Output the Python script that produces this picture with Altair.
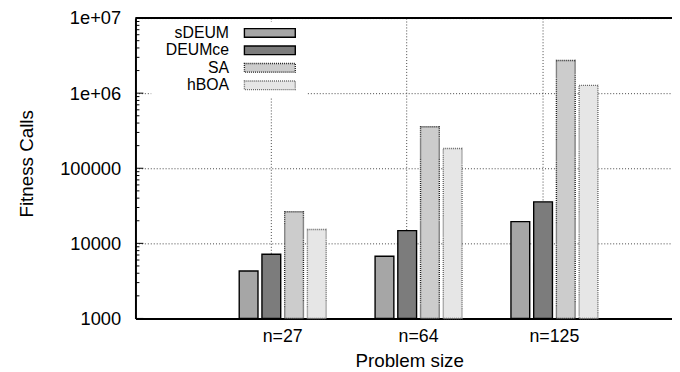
import altair as alt
import pandas as pd

# ---- data ----
sizes = ["n=27", "n=64", "n=125"]
series = ["sDEUM", "DEUMce", "SA", "hBOA"]
sdeum = [4280, 6740, 19500]
deumce = [7170, 14800, 35700]
sa = [26400, 357000, 2720000]
hboa = [15300, 183000, 1270000]

y_major = [1000, 10000, 100000, 1000000, 10000000]
y_minor = [m * 10 ** e for e in range(3, 7) for m in range(2, 10)]

# ---- styles ----
fills = ["#a6a6a6", "#7c7c7c", "#cccccc", "#e6e6e6"]
strokes = ["#000000", "#000000", "#222222", "#666666"]
dashes = [[1, 0], [1, 0], [1, 1], [1, 1]]
FONT = "Liberation Sans"
W, H = 543, 304

rows = []
for s, vals in zip(series, [sdeum, deumce, sa, hboa]):
    for c, v in zip(sizes, vals):
        rows.append({"size": c, "series": s, "calls": v})
df = pd.DataFrame(rows)

yscale = alt.Scale(type="log", domain=[1000, 1e7], nice=False)
fill = alt.Fill("series:N", scale=alt.Scale(domain=series, range=fills), legend=None)
stroke = alt.Stroke("series:N", scale=alt.Scale(domain=series, range=strokes), legend=None)
dash = alt.StrokeDash("series:N", scale=alt.Scale(domain=series, range=dashes), legend=None)

label_expr = ("datum.value >= 1000000 ? '1e+0' + format(log(datum.value)/LN10, '.0f') "
              ": format(datum.value, 'd')")

bars = alt.Chart(df).mark_bar(strokeWidth=1.4).encode(
    x=alt.X(
        "size:N", sort=sizes,
        scale=alt.Scale(paddingInner=0, paddingOuter=0.4745, align=0.615),
        axis=alt.Axis(
            title="Problem size", bandPosition=0.415, ticks=False, tickSize=0,
            domainColor="#000", domainWidth=2, labelAngle=0, labelPadding=9,
            labelFontSize=18, labelFont=FONT, labelColor="#000",
            grid=True, gridColor="#444", gridDash=[1, 2], gridWidth=1,
            titleFont=FONT, titleFontSize=19, titleFontWeight="normal", titleColor="#000",
            titleX=277, titleY=49, titleBaseline="alphabetic", titleAlign="center",
        ),
    ),
    xOffset=alt.XOffset("series:N", sort=series,
                        scale=alt.Scale(paddingInner=0.174, paddingOuter=0, range=[24.75, 112.75])),
    y=alt.Y(
        "calls:Q", scale=yscale,
        axis=alt.Axis(
            values=y_major, labelExpr=label_expr, ticks=False, tickSize=0,
            domainColor="#000", domainWidth=2, labelPadding=15,
            labelFontSize=18.5, labelFont=FONT, labelColor="#000",
            grid=True, gridColor="#444", gridDash=[1, 2], gridWidth=1,
            title="Fitness Calls", titleFont=FONT, titleFontSize=19,
            titleFontWeight="normal", titleColor="#000",
            titleX=-103.7, titleY=147, titleAngle=270, titleBaseline="alphabetic",
            titleAlign="center",
        ),
    ),
    y2=alt.datum(1000),
    fill=fill, stroke=stroke, strokeDash=dash,
)

tick_major = alt.Chart(pd.DataFrame({"v": y_major})).mark_rule(color="#000", strokeWidth=1).encode(
    y=alt.Y("v:Q", scale=yscale, axis=None), x=alt.value(0), x2=alt.value(8))
tick_minor = alt.Chart(pd.DataFrame({"v": y_minor})).mark_rule(color="#000", strokeWidth=1).encode(
    y=alt.Y("v:Q", scale=yscale, axis=None), x=alt.value(0), x2=alt.value(4))

top_border = alt.Chart(pd.DataFrame({"a": [0]})).mark_rule(color="#000", strokeWidth=2).encode(
    x=alt.value(0), x2=alt.value(W), y=alt.value(0))

leg_bg = alt.Chart(pd.DataFrame({"a": [0]})).mark_rect(fill="white").encode(
    x=alt.value(16), x2=alt.value(173), y=alt.value(4), y2=alt.value(81))

leg_df = pd.DataFrame({"series": series})
legy = alt.Y("series:N", sort=series,
             scale=alt.Scale(type="point", domain=series, range=[15, 68], padding=0), axis=None)
leg_sw = alt.Chart(leg_df).mark_point(
    shape="M-1,-0.17H1V0.17H-1Z", size=2650, filled=True, strokeWidth=1.4, opacity=1
).encode(x=alt.value(136), y=legy, fill=fill, stroke=stroke, strokeDash=dash)
leg_tx = alt.Chart(leg_df).mark_text(
    align="right", baseline="middle", font=FONT, fontSize=16, color="#000"
).encode(x=alt.value(94.7), y=legy, text="series:N")

chart = alt.layer(
    bars, tick_major, tick_minor, top_border, leg_bg, leg_sw, leg_tx
).resolve_scale(y="independent").properties(
    width=W, height=H,
    autosize=alt.AutoSizeParams(type="none"),
    padding={"left": 129, "top": 8, "right": 0, "bottom": 52},
).configure_view(stroke=None)

chart.save("out.html", embed_options={"renderer": "svg", "actions": False})
